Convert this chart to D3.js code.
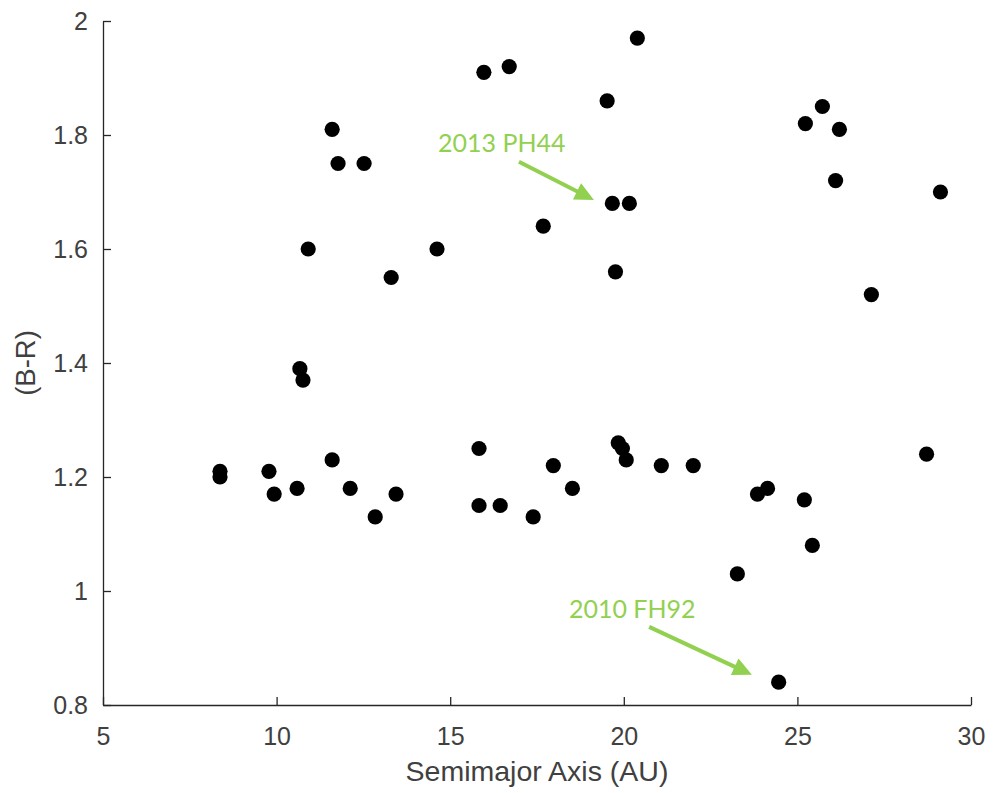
<!DOCTYPE html>
<html>
<head>
<meta charset="utf-8">
<script src="https://cdn.jsdelivr.net/npm/d3@7"></script>
<style>
  html, body { margin: 0; padding: 0; background: #fff; }
  svg { display: block; }
</style>
</head>
<body>
<svg id="chart" width="996" height="793"></svg>
<script>
// Semimajor axis (AU) and B-R colour of each object
const semimajorAxis = [
  8.37, 8.37, 9.78, 9.93, 10.59, 10.67, 10.76, 10.91, 11.60, 11.77,
  12.52, 11.60, 12.12, 12.84, 13.30, 13.44, 14.62, 15.83, 15.83, 16.44,
  15.97, 16.70, 17.39, 17.68, 17.97, 18.52, 19.52, 20.39, 19.67, 20.16,
  19.76, 19.84, 19.96, 20.07, 21.08, 22.00, 23.27, 23.85, 24.14, 24.46,
  25.20, 25.43, 25.23, 25.72, 26.21, 26.10, 27.13, 29.12, 28.72
];
const colorBR = [
  1.21, 1.20, 1.21, 1.17, 1.18, 1.39, 1.37, 1.60, 1.81, 1.75,
  1.75, 1.23, 1.18, 1.13, 1.55, 1.17, 1.60, 1.25, 1.15, 1.15,
  1.91, 1.92, 1.13, 1.64, 1.22, 1.18, 1.86, 1.97, 1.68, 1.68,
  1.56, 1.26, 1.25, 1.23, 1.22, 1.22, 1.03, 1.17, 1.18, 0.84,
  1.16, 1.08, 1.82, 1.85, 1.81, 1.72, 1.52, 1.70, 1.24
];

const xTicks = [5, 10, 15, 20, 25, 30];
const yTicks = [0.8, 1, 1.2, 1.4, 1.6, 1.8, 2];

// Labelled objects: text anchor and arrow (start -> tip), in data units
const annotationNames = ["2013 PH44", "2010 FH92"];
const annotationText = [[14.65, 1.770], [18.42, 0.953]];
const annotationArrowFrom = [[16.98, 1.753], [20.73, 0.937]];
const annotationArrowTo = [[19.14, 1.686], [23.69, 0.853]];

const svg = d3.select("#chart");
const margin = { left: 103, top: 21, right: 25, bottom: 88 };
const W = +svg.attr("width"), H = +svg.attr("height");
const plotW = W - margin.left - margin.right;
const plotH = H - margin.top - margin.bottom;

const x = d3.scaleLinear().domain([5, 30]).range([margin.left, margin.left + plotW]);
const y = d3.scaleLinear().domain([0.8, 2]).range([margin.top + plotH, margin.top]);

const axisFont = "'Liberation Sans', Arial, Helvetica, sans-serif";
const axisColor = "#262626";
const labelColor = "#404040";

// Axes with inward ticks
const gx = svg.append("g")
  .attr("transform", `translate(0,${margin.top + plotH})`)
  .call(d3.axisBottom(x).tickValues(xTicks).tickFormat(d3.format("d"))
    .tickSizeInner(-8).tickSizeOuter(0).tickPadding(22));
const gy = svg.append("g")
  .attr("transform", `translate(${margin.left},0)`)
  .call(d3.axisLeft(y).tickValues(yTicks).tickFormat(d => String(+d.toFixed(1)))
    .tickSizeInner(-8).tickSizeOuter(0).tickPadding(15));

[gx, gy].forEach(g => {
  g.attr("font-family", null);
  g.select(".domain").attr("stroke", axisColor).attr("stroke-width", 1.3);
  g.selectAll(".tick line").attr("stroke", axisColor).attr("stroke-width", 1.3);
  g.selectAll(".tick text")
    .attr("fill", labelColor)
    .style("font-family", axisFont)
    .style("font-size", "25px");
});

// Axis titles
svg.append("text")
  .attr("x", x(17.5)).attr("y", 781)
  .attr("text-anchor", "middle")
  .attr("fill", labelColor)
  .style("font-family", axisFont).style("font-size", "28.5px")
  .text("Semimajor Axis (AU)");

svg.append("text")
  .attr("transform", `translate(35,${y(1.4)}) rotate(-90)`)
  .attr("text-anchor", "middle")
  .attr("fill", labelColor)
  .style("font-family", axisFont).style("font-size", "27.5px")
  .text("(B-R)");

// Data points
svg.append("g")
  .selectAll("circle")
  .data(semimajorAxis.map((a, i) => [a, colorBR[i]]))
  .join("circle")
  .attr("cx", d => x(d[0]))
  .attr("cy", d => y(d[1]))
  .attr("r", 7.6)
  .attr("fill", "#000");

// Annotations
const green = "#92D050";
const ann = svg.append("g");
annotationNames.forEach((name, i) => {
  ann.append("text")
    .attr("x", x(annotationText[i][0]))
    .attr("y", y(annotationText[i][1]))
    .attr("fill", green)
    .style("font-family", "Lato, 'Open Sans', sans-serif")
    .style("font-size", "25px")
    .text(name);

  const x0 = x(annotationArrowFrom[i][0]), y0 = y(annotationArrowFrom[i][1]);
  const x1 = x(annotationArrowTo[i][0]), y1 = y(annotationArrowTo[i][1]);
  const ang = Math.atan2(y1 - y0, x1 - x0);
  const headLen = 19, headHalf = 9;
  const bx = x1 - headLen * Math.cos(ang), by = y1 - headLen * Math.sin(ang);
  ann.append("line")
    .attr("x1", x0).attr("y1", y0)
    .attr("x2", bx + 2 * Math.cos(ang)).attr("y2", by + 2 * Math.sin(ang))
    .attr("stroke", green).attr("stroke-width", 4);
  const px = -Math.sin(ang), py = Math.cos(ang);
  ann.append("polygon")
    .attr("points", [
      [x1, y1],
      [bx + headHalf * px, by + headHalf * py],
      [bx - headHalf * px, by - headHalf * py]
    ].map(p => p.join(",")).join(" "))
    .attr("fill", green);
});
</script>
</body>
</html>
